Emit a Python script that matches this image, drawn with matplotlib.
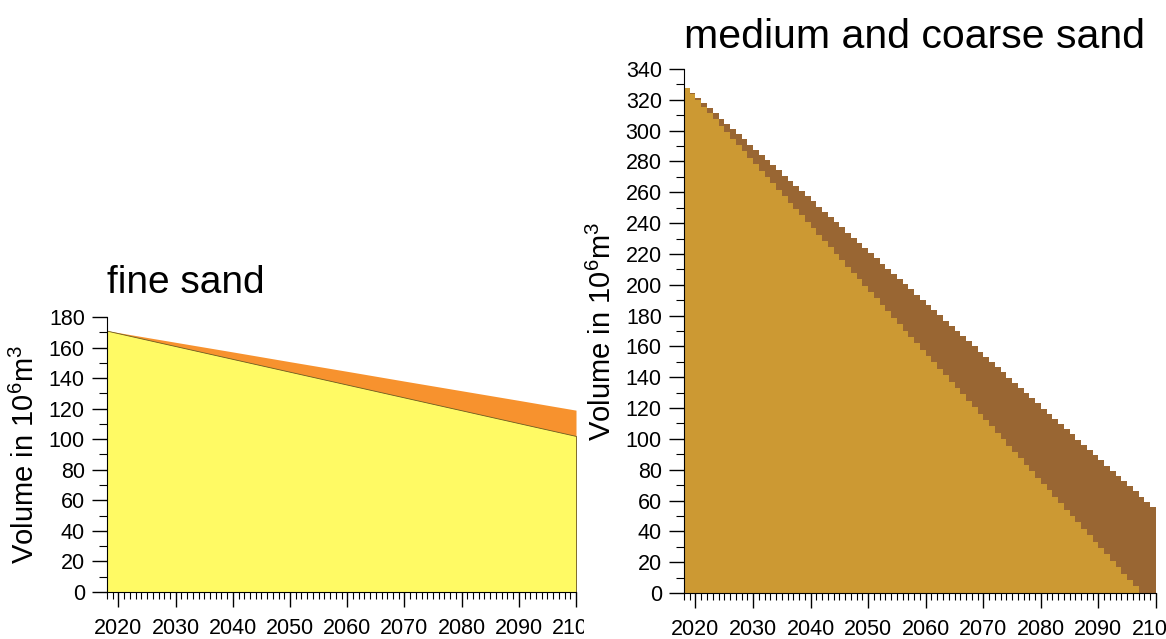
import matplotlib.pyplot as plt
from matplotlib.ticker import MultipleLocator
from matplotlib.transforms import Bbox, TransformedBbox

plt.rcParams['font.family'] = ['Liberation Sans', 'DejaVu Sans']
plt.rcParams['mathtext.fontset'] = 'custom'
plt.rcParams['mathtext.rm'] = 'Liberation Sans'
plt.rcParams['mathtext.it'] = 'Liberation Sans:italic'

# fine sand, volume in 10^6 m^3
fine_years = [2018, 2030, 2040, 2050, 2060, 2070, 2080, 2090, 2100]
fine_remaining = [171.0, 160.9, 152.5, 144.1, 135.7, 127.3, 118.9, 110.5, 102.1]
fine_total = [171.0, 163.4, 157.1, 150.7, 144.4, 138.0, 131.7, 125.4, 119.0]

# medium and coarse sand, yearly values from 2018 to 2099
coarse_edges = list(range(2018, 2101))
coarse_remaining = [
    328.0, 323.9, 319.7, 315.6, 311.4, 307.3, 303.1, 299.0, 294.8, 290.7,
    286.5, 282.4, 278.2, 274.1, 269.9, 265.8, 261.6, 257.5, 253.3, 249.2,
    245.0, 240.9, 236.7, 232.6, 228.4, 224.3, 220.1, 216.0, 211.8, 207.7,
    203.5, 199.4, 195.2, 191.1, 186.9, 182.8, 178.6, 174.5, 170.3, 166.2,
    162.0, 157.9, 153.7, 149.6, 145.4, 141.3, 137.1, 133.0, 128.8, 124.7,
    120.5, 116.4, 112.2, 108.1, 103.9, 99.8, 95.6, 91.5, 87.3, 83.2,
    79.0, 74.9, 70.7, 66.6, 62.4, 58.3, 54.1, 50.0, 45.8, 41.7,
    37.5, 33.4, 29.2, 25.1, 20.9, 16.8, 12.6, 8.5, 4.3, 0.0,
    0.0, 0.0]
coarse_total = [
    328.0, 324.6, 321.3, 317.9, 314.6, 311.2, 307.8, 304.5, 301.1, 297.8,
    294.4, 291.0, 287.7, 284.3, 281.0, 277.6, 274.2, 270.9, 267.5, 264.2,
    260.8, 257.4, 254.1, 250.7, 247.4, 244.0, 240.6, 237.3, 233.9, 230.6,
    227.2, 223.8, 220.5, 217.1, 213.8, 210.4, 207.0, 203.7, 200.3, 197.0,
    193.6, 190.2, 186.9, 183.5, 180.2, 176.8, 173.4, 170.1, 166.7, 163.4,
    160.0, 156.6, 153.3, 149.9, 146.6, 143.2, 139.8, 136.5, 133.1, 129.8,
    126.4, 123.0, 119.7, 116.3, 113.0, 109.6, 106.2, 102.9, 99.5, 96.2,
    92.8, 89.4, 86.1, 82.7, 79.4, 76.0, 72.6, 69.3, 65.9, 62.6,
    59.2, 55.8]

fig = plt.figure(figsize=(11.66, 6.39), dpi=100)
ax1 = fig.add_axes([0.0918, 0.0736, 0.4022, 0.4304])
ax2 = fig.add_axes([0.5866, 0.0720, 0.4048, 0.8200])

ylabel = r'Volume in 10$^{\mathrm{6}}$m$^{\mathrm{3}}$'


def style(ax, ymax):
    ax.set_xlim(2018, 2100)
    ax.set_ylim(0, ymax)
    for side in ('top', 'right'):
        ax.spines[side].set_visible(False)
    ax.xaxis.set_major_locator(MultipleLocator(10))
    ax.xaxis.set_minor_locator(MultipleLocator(1))
    ax.yaxis.set_major_locator(MultipleLocator(20))
    ax.yaxis.set_minor_locator(MultipleLocator(10))
    ax.tick_params(axis='x', which='major', length=11, width=1, pad=8, labelsize=15.5)
    ax.tick_params(axis='x', which='minor', length=5, width=0.8)
    ax.tick_params(axis='y', which='major', length=11, width=1, pad=5, labelsize=15.5)
    ax.tick_params(axis='y', which='minor', length=6, width=0.8)
    ax.set_ylabel(ylabel, fontsize=21, labelpad=6)


# fine sand
ax1.fill_between(fine_years, 0, fine_total, color='#F7922E', linewidth=0)
ax1.fill_between(fine_years, 0, fine_remaining, facecolor='#FFFA64',
                 edgecolor='#6b5a20', linewidth=0.6)
style(ax1, 180)
ax1.set_title('fine sand', loc='left', fontsize=28, pad=17)

# medium and coarse sand
ax2.stairs(coarse_total, coarse_edges, fill=True, color='#996633', baseline=0)
ax2.stairs(coarse_remaining, coarse_edges, fill=True, color='#CC9933', baseline=0)
style(ax2, 340)
ax2.set_title('medium and coarse sand', loc='left', fontsize=29.5, pad=15)

# the left year labels stop where the right panel begins
clip = TransformedBbox(Bbox([[0, 0], [0.501, 1]]), fig.transFigure)
for lab in ax1.get_xticklabels():
    lab.set_clip_box(clip)
    lab.set_clip_on(True)

fig.savefig('out.png', dpi=100)
